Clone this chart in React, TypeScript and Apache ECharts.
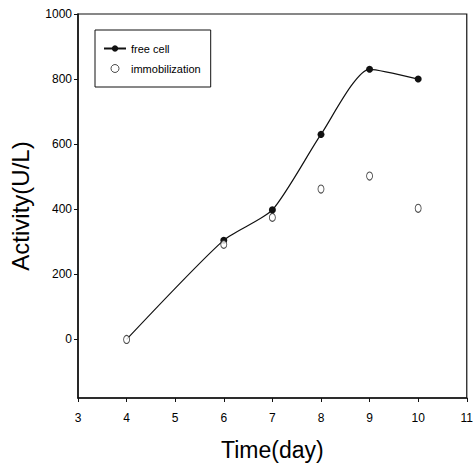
import React, { useEffect, useRef } from "react";
import * as echarts from "echarts";

const days = [4, 6, 7, 8, 9, 10];
const freeCell = [0, 305, 398, 630, 830, 800];
const immobilization = [0, 292, 375, 462, 502, 403];
const yTicks = [0, 200, 400, 600, 800, 1000];
const xTicks = [3, 4, 5, 6, 7, 8, 9, 10, 11];

const FONT = "Liberation Sans";

export default function App() {
  const ref = useRef<HTMLDivElement>(null);
  useEffect(() => {
    if (!ref.current) return;
    const chart = echarts.init(ref.current, undefined, { renderer: "svg" });
    chart.setOption({
      animation: false,
      backgroundColor: "#fff",
      textStyle: { fontFamily: FONT, color: "#000" },
      grid: {
        left: 74,
        top: 14,
        right: 8,
        bottom: 77,
        show: true,
        borderColor: "#111",
        borderWidth: 1.2,
      },
      legend: {
        left: 95,
        top: 30,
        orient: "vertical",
        borderColor: "#111",
        borderWidth: 1,
        padding: [13, 10, 13, 8],
        itemWidth: 22,
        itemHeight: 8,
        itemGap: 9,
        textStyle: { fontFamily: FONT, fontSize: 11, color: "#000" },
        data: [
          { name: "free cell" },
          { name: "immobilization", itemStyle: { color: "#fff", borderColor: "#222", borderWidth: 1 } },
        ],
      },
      xAxis: {
        type: "value",
        min: xTicks[0],
        max: xTicks[xTicks.length - 1],
        interval: 1,
        name: "Time(day)",
        nameLocation: "middle",
        nameGap: 40,
        nameTextStyle: { fontFamily: FONT, fontSize: 23, color: "#000" },
        axisLine: { show: true, onZero: false, lineStyle: { color: "#111", width: 1.5 } },
        axisTick: { show: true, length: 4, lineStyle: { color: "#111" } },
        axisLabel: { fontFamily: FONT, fontSize: 12, color: "#000", margin: 14 },
        splitLine: { show: false },
      },
      yAxis: {
        type: "value",
        min: -180,
        max: 1000,
        name: "Activity(U/L)",
        nameLocation: "middle",
        nameGap: 46,
        nameTextStyle: { fontFamily: FONT, fontSize: 24, color: "#000" },
        axisLine: { show: true, onZero: false, lineStyle: { color: "#111", width: 1.5 } },
        axisTick: { show: true, length: 4, lineStyle: { color: "#111" }, customValues: yTicks },
        axisLabel: {
          fontFamily: FONT,
          fontSize: 12,
          color: "#000",
          margin: 6,
          customValues: yTicks,
          formatter: (v: number) => String(v),
        },
        splitLine: { show: false },
      },
      series: [
        {
          name: "free cell",
          type: "line",
          smooth: 0.22,
          data: days.map((d, i) => [d, freeCell[i]]),
          symbol: "circle",
          symbolSize: (_v: any, p: any) => (p && p.dataIndex === 0 ? 0 : 7),
          lineStyle: { color: "#111", width: 1.2 },
          itemStyle: { color: "#111" },
          z: 2,
        },
        {
          name: "immobilization",
          type: "scatter",
          data: days.map((d, i) => [d, immobilization[i]]),
          symbol: "circle",
          symbolSize: [6, 8],
          itemStyle: { color: "#fff", borderColor: "#222", borderWidth: 1 },
          z: 3,
        },
      ],
    });
    return () => chart.dispose();
  }, []);
  return <div ref={ref} style={{ width: 476, height: 475, position: "absolute", left: 0, top: 0 }} />;
}
